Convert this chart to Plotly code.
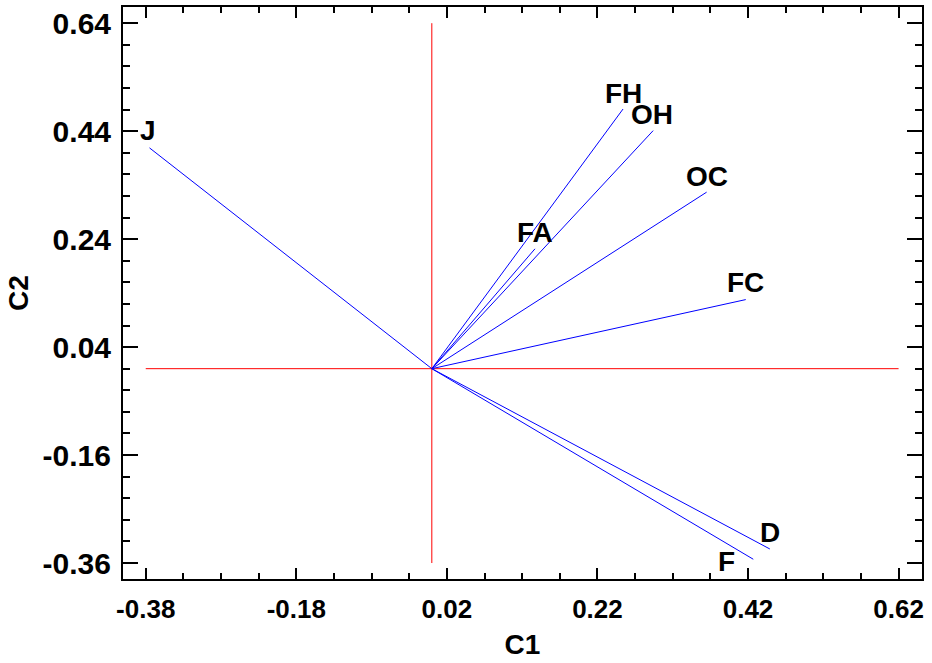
import plotly.graph_objects as go

# Loading vectors (C1, C2)
labels = ["J", "FH", "OH", "OC", "FA", "FC", "D", "F"]
c1 = [-0.375, 0.254, 0.294, 0.365, 0.137, 0.417, 0.449, 0.427]
c2 = [0.409, 0.481, 0.441, 0.327, 0.222, 0.128, -0.334, -0.353]

# label offsets from the vector tip (pixels)
label_dx = [-2, 0, -1, 0, 0, 0, 0, -27]
label_dy = [17, 16, 16, 16, 16, 17, 16, -2]

# Reference (zero) lines extents
hline_x = [-0.38, 0.62]
vline_y = [-0.36, 0.64]

x_ticks = [-0.38, -0.18, 0.02, 0.22, 0.42, 0.62]
y_ticks = [-0.36, -0.16, 0.04, 0.24, 0.44, 0.64]

FONT = "Liberation Sans, Arial, sans-serif"

fig = go.Figure()

# red cross lines
fig.add_trace(go.Scatter(x=hline_x, y=[0, 0], mode="lines",
                         line=dict(color="#ff0000", width=1), hoverinfo="skip"))
fig.add_trace(go.Scatter(x=[0, 0], y=vline_y, mode="lines",
                         line=dict(color="#ff0000", width=1), hoverinfo="skip"))

# vectors
for name, x, y in zip(labels, c1, c2):
    fig.add_trace(go.Scatter(x=[0, x], y=[0, y], mode="lines",
                             line=dict(color="#0000ff", width=1), name=name))

# labels
for name, x, y, dx, dy in zip(labels, c1, c2, label_dx, label_dy):
    fig.add_annotation(x=x, y=y, text=name, showarrow=False,
                       xanchor="center", yanchor="middle", xshift=dx, yshift=dy,
                       font=dict(family=FONT, size=28, color="black", weight="bold"))

axis_common = dict(
    showline=True, linecolor="black", linewidth=2, mirror="ticks",
    ticks="inside", tickcolor="black", tickwidth=2,
    showgrid=False, zeroline=False, automargin=False,
    ticklabeloverflow="allow",
)

fig.update_xaxes(range=[-0.4102, 0.6511], tickvals=x_ticks,
                 ticktext=[f"{v:.2f}" for v in x_ticks], ticklen=11,
                 tickfont=dict(family=FONT, size=26, color="black", weight="bold"),
                 minor=dict(tick0=-0.38, dtick=0.05, ticks="inside", ticklen=6,
                            tickcolor="black", tickwidth=2),
                 title=dict(text="C1", standoff=11,
                            font=dict(family=FONT, size=28, color="black", weight="bold")),
                 ticklabelstandoff=6,
                 **axis_common)
fig.update_yaxes(range=[-0.3896, 0.670], tickvals=y_ticks,
                 ticktext=[f"{v:.2f}" for v in y_ticks], ticklen=15,
                 tickfont=dict(family=FONT, size=30, color="black", weight="bold"),
                 minor=dict(tick0=-0.36, dtick=0.04, ticks="inside", ticklen=7,
                            tickcolor="black", tickwidth=2),
                 title=dict(text="C2", standoff=6,
                            font=dict(family=FONT, size=28, color="black", weight="bold")),
                 ticklabelstandoff=4,
                 **axis_common)

fig.update_layout(width=932, height=663, showlegend=False,
                  margin=dict(l=123, r=10, t=7, b=84),
                  plot_bgcolor="white", paper_bgcolor="white")

# remove the browser's default 8px body margin so the figure fills the window
fig.write_html("out.html",
               config={"displayModeBar": False},
               post_script="document.body.style.margin='0';"
                           "document.body.style.overflow='hidden';")
